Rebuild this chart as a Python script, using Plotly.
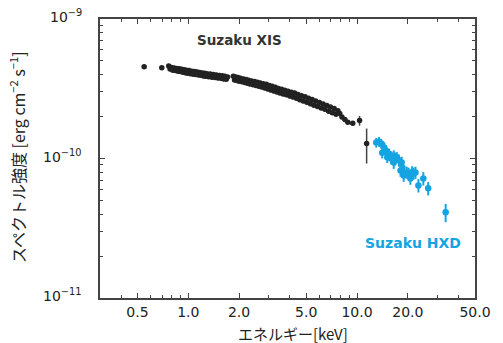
import plotly.graph_objects as go
import numpy as np

# ---- data (energy in keV, flux in units of 1e-10 erg cm^-2 s^-1) ----
xis_energy = [0.548, 0.697, 0.766, 0.780, 0.795, 0.81, 0.825, 0.84, 0.855, 0.87, 0.885, 0.90,
              0.915, 0.93, 0.945, 0.96, 0.975, 0.99, 1.01, 1.03, 1.05, 1.07, 1.09, 1.11,
              1.13, 1.15, 1.17, 1.19, 1.21, 1.23, 1.25, 1.27, 1.29, 1.32, 1.35, 1.38,
              1.41, 1.44, 1.47, 1.50, 1.53, 1.56, 1.59, 1.62, 1.65, 1.68, 1.71,
              1.85, 1.88, 1.91, 1.94, 1.97, 2.00, 2.04, 2.08, 2.12, 2.16, 2.20, 2.24,
              2.28, 2.32, 2.37, 2.42, 2.47, 2.52, 2.57, 2.62, 2.67, 2.72, 2.78, 2.84,
              2.90, 2.96, 3.02, 3.08, 3.14, 3.21, 3.28, 3.35, 3.42, 3.49, 3.57, 3.65,
              3.73, 3.81, 3.90, 3.99, 4.08, 4.17, 4.27, 4.37, 4.47, 4.58, 4.69, 4.80,
              4.92, 5.04, 5.16, 5.29, 5.42, 5.55, 5.69, 5.83, 5.98, 6.13, 6.29, 6.45,
              6.62, 6.79, 6.96, 7.14, 7.32, 7.51, 7.70, 7.90, 8.14, 8.47, 8.82, 9.43]
xis_flux = [4.54, 4.47, 4.60, 4.38, 4.50, 4.30, 4.46, 4.28, 4.42, 4.22, 4.40, 4.20,
            4.36, 4.16, 4.33, 4.12, 4.30, 4.08, 4.28, 4.05, 4.22, 4.02, 4.20, 4.00,
            4.17, 3.96, 4.14, 3.95, 4.10, 3.90, 4.09, 3.88, 4.05, 3.85, 4.03, 3.82,
            4.00, 3.80, 3.96, 3.78, 3.93, 3.76, 3.92, 3.72, 3.88, 3.70, 3.84,
            3.88, 3.66, 3.84, 3.62, 3.80, 3.58, 3.76, 3.55, 3.72, 3.50, 3.68, 3.46,
            3.64, 3.42, 3.60, 3.38, 3.56, 3.34, 3.52, 3.30, 3.48, 3.26, 3.44, 3.20,
            3.40, 3.15, 3.34, 3.10, 3.30, 3.05, 3.24, 3.00, 3.18, 2.95, 3.13, 2.90,
            3.08, 2.86, 3.03, 2.80, 2.99, 2.76, 2.95, 2.70, 2.88, 2.64, 2.82, 2.58,
            2.77, 2.53, 2.70, 2.47, 2.65, 2.41, 2.58, 2.36, 2.52, 2.30, 2.46, 2.25,
            2.40, 2.18, 2.34, 2.13, 2.28, 2.08, 2.20, 2.10, 1.98, 1.90, 1.82, 1.79]

xis_tail_energy = [10.35, 11.4]
xis_tail_flux = [1.87, 1.28]
xis_tail_err_plus = [0.15, 0.36]
xis_tail_err_minus = [0.15, 0.36]

hxd_energy = [13.0, 13.5, 13.9, 14.5, 14.1, 14.8, 15.1, 15.5, 15.9, 16.5, 16.8, 17.2,
              16.5, 17.7, 18.4, 18.1, 18.6, 18.9, 19.7, 20.2, 20.7, 21.2, 21.6, 22.2,
              23.1, 24.7, 26.4, 33.5]
hxd_flux = [1.30, 1.32, 1.28, 1.20, 1.10, 1.14, 1.02, 1.08, 1.00, 1.05, 0.98, 1.02,
            0.936, 0.97, 0.936, 0.821, 0.86, 0.756, 0.794, 0.782, 0.72, 0.80, 0.782, 0.794,
            0.641, 0.72, 0.611, 0.411]
hxd_err_pct = [8, 8, 8, 9, 9, 9, 9, 9, 9, 9, 9, 9,
               10, 10, 10, 10, 10, 10, 10, 10, 10, 10, 10, 10,
               11, 11, 11, 15]

x_major = [0.5, 1, 2, 5, 10, 20, 50]
x_major_text = ["0.5", "1.0", "2.0", "5.0", "10.0", "20.0", "50.0"]
x_minor = [0.4, 0.6, 0.7, 0.8, 0.9, 3, 4, 6, 7, 8, 9, 30, 40]
y_major = [1e-11, 1e-10, 1e-9]
y_major_text = ["10<sup>\u221211</sup>", "10<sup>\u221210</sup>", "10<sup>\u22129</sup>"]
y_minor = [m * 10.0 ** e for e in (-11, -10) for m in range(2, 10)]

UNIT = 1e-10
BLACK = "#222222"
BLUE = "#15a4e2"

xf = np.array(xis_flux) * UNIT
tf = np.array(xis_tail_flux) * UNIT
hf = np.array(hxd_flux) * UNIT
herr = hf * np.array(hxd_err_pct) / 100.0

fig = go.Figure()
fig.add_trace(go.Scatter(
    x=xis_energy, y=xf, mode="markers",
    marker=dict(color=BLACK, size=5.5),
    error_y=dict(type="percent", value=3.5, color=BLACK, thickness=1, width=0),
    showlegend=False))
fig.add_trace(go.Scatter(
    x=xis_tail_energy, y=tf, mode="markers",
    marker=dict(color=BLACK, size=5.5),
    error_y=dict(type="data", symmetric=False,
                 array=np.array(xis_tail_err_plus) * UNIT,
                 arrayminus=np.array(xis_tail_err_minus) * UNIT,
                 color="#444444", thickness=1.5, width=0),
    showlegend=False))
fig.add_trace(go.Scatter(
    x=hxd_energy, y=hf, mode="markers",
    marker=dict(color=BLUE, size=6.5),
    error_y=dict(type="data", array=herr, color=BLUE, thickness=2, width=0),
    showlegend=False))

tickfont = dict(family="DejaVu Sans", size=14, color=BLACK)
axis_common = dict(showline=True, linecolor="#444444", linewidth=1.5, mirror="ticks",
                   ticks="inside", ticklen=5, tickwidth=1, tickcolor="#444444",
                   showgrid=False, zeroline=False, tickfont=tickfont)

fig.update_xaxes(type="log", range=[np.log10(0.3), np.log10(50)],
                 tickmode="array", tickvals=x_major, ticktext=x_major_text,
                 minor=dict(tickmode="array", tickvals=x_minor, ticks="inside",
                            ticklen=3, tickcolor="#444444", showgrid=False),
                 ticklabelstandoff=0,
                 **axis_common)
fig.update_yaxes(type="log", range=[-11, -9],
                 tickmode="array", tickvals=y_major, ticktext=y_major_text,
                 showticklabels=False,
                 minor=dict(tickmode="array", tickvals=y_minor, ticks="inside",
                            ticklen=3, tickcolor="#444444", showgrid=False),
                 **axis_common)

PL, PR, PT, PB = 100, 484, 19, 298
W, H = PR - PL, PB - PT

def px(x):
    return (x - PL) / W

def py(y):
    return (PB - y) / H

# y tick labels placed on the y axis scale
for v, t in zip(y_major, y_major_text):
    fig.add_annotation(text=t, xref="paper", yref="y", x=px(84), y=np.log10(v),
                       xanchor="right", yanchor="middle", yshift=3, showarrow=False,
                       font=tickfont)

jp = "Noto Sans CJK JP"
fig.add_annotation(text="スペクトル強度 [erg cm<sup>\u22122</sup> s<sup>\u22121</sup>]",
                   xref="paper", yref="paper", x=px(15), y=py(157),
                   xanchor="center", yanchor="middle", textangle=-90, showarrow=False,
                   font=dict(family=jp, size=16, color=BLACK))
fig.add_annotation(text="エネルギー[keV]",
                   xref="paper", yref="paper", x=px(298), y=py(333),
                   xanchor="center", yanchor="middle", showarrow=False,
                   font=dict(family=jp, size=15, color=BLACK))
fig.add_annotation(text="<b>Suzaku XIS</b>", xref="paper", yref="paper",
                   x=px(243), y=py(40),
                   xanchor="center", yanchor="middle", showarrow=False,
                   font=dict(family="DejaVu Sans", size=13.5, color="#333333"))
fig.add_annotation(text="<b>Suzaku HXD</b>", xref="paper", yref="paper",
                   x=px(420), y=py(243),
                   xanchor="center", yanchor="middle", showarrow=False,
                   font=dict(family="DejaVu Sans", size=14, color=BLUE))

fig.update_layout(width=503, height=343, margin=dict(l=PL, r=503 - PR, t=PT, b=343 - PB),
                  paper_bgcolor="white", plot_bgcolor="white")
fig.write_html("out.html")
